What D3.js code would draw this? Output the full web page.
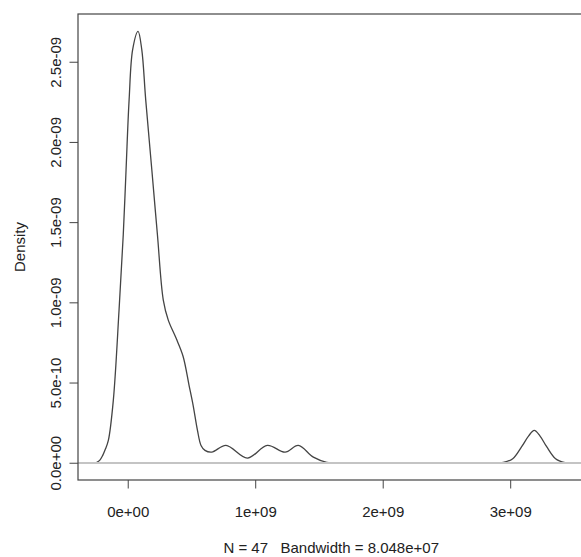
<!DOCTYPE html>
<html>
<head>
<meta charset="utf-8">
<script src="https://cdn.jsdelivr.net/npm/d3@7"></script>
<style>
  body { margin: 0; background: #fff; }
  svg { display: block; }
</style>
</head>
<body>
<div id="chart"></div>
<script>
const width = 581;
const height = 557;

// density curve
const densityX = [
  -0.249e9, -0.22e9, -0.196e9, -0.175e9, -0.152e9, -0.113e9, -0.068e9, -0.035e9,
  -0.013e9, 0.011e9, 0.039e9, 0.081e9, 0.110e9, 0.141e9, 0.189e9, 0.233e9,
  0.279e9, 0.318e9, 0.379e9, 0.434e9, 0.481e9, 0.513e9, 0.547e9,
  0.575e9, 0.606e9, 0.659e9, 0.771e9, 0.938e9, 1.095e9, 1.234e9, 1.338e9,
  1.456e9, 1.561e9, 1.62e9, 2.90e9, 2.946e9, 3.020e9, 3.090e9, 3.145e9, 3.189e9,
  3.233e9, 3.286e9, 3.356e9, 3.430e9
];
const densityY = [
  0, 0.015e-9, 0.046e-9, 0.085e-9, 0.139e-9, 0.389e-9, 0.952e-9, 1.421e-9,
  1.827e-9, 2.264e-9, 2.577e-9, 2.689e-9, 2.577e-9, 2.264e-9, 1.827e-9, 1.421e-9,
  1.014e-9, 0.889e-9, 0.777e-9, 0.664e-9, 0.483e-9, 0.358e-9, 0.202e-9,
  0.108e-9, 0.077e-9, 0.066e-9, 0.108e-9, 0.029e-9, 0.108e-9, 0.066e-9, 0.108e-9,
  0.035e-9, 0.003e-9, 0, 0, 0.002e-9, 0.025e-9, 0.100e-9, 0.168e-9, 0.202e-9,
  0.168e-9, 0.100e-9, 0.025e-9, 0
];

const xTicks = [0, 1e9, 2e9, 3e9];
const xTickLabels = ["0e+00", "1e+09", "2e+09", "3e+09"];
const yTicks = [0, 0.5e-9, 1.0e-9, 1.5e-9, 2.0e-9, 2.5e-9];
const yTickLabels = ["0.0e+00", "5.0e-10", "1.0e-09", "1.5e-09", "2.0e-09", "2.5e-09"];

const subTitle = "N = 47   Bandwidth = 8.048e+07";
const yTitle = "Density";

const box = { left: 78, top: 14, right: 584.4, bottom: 480 };

const x = d3.scaleLinear()
  .domain([-0.39e9, 3.582e9])
  .range([box.left, box.right]);

const y = d3.scaleLinear()
  .domain([-0.1076e-9, 2.7976e-9])
  .range([box.bottom, box.top]);

const svg = d3.select("#chart")
  .append("svg")
  .attr("width", width)
  .attr("height", height)
  .style("font-family", "'Liberation Sans', Arial, sans-serif")
  .style("font-size", "15px");

const points = densityX.map(function(d, i) {
  return [d, densityY[i]];
});

const line = d3.line()
  .x(function(d) { return x(d[0]); })
  .y(function(d) { return Math.min(y(d[1]), y(0)); })
  .curve(d3.curveCatmullRom.alpha(0.5));

svg.append("path")
  .datum(points)
  .attr("fill", "none")
  .attr("stroke", "#444")
  .attr("stroke-width", 1.3)
  .attr("d", line);

// zero line, drawn over the curve like R does
const y0 = Math.round(y(0));
svg.append("line")
  .attr("x1", box.left)
  .attr("x2", width)
  .attr("y1", y0)
  .attr("y2", y0)
  .attr("stroke", "#c4c4c4")
  .attr("stroke-width", 2);

// box
svg.append("rect")
  .attr("x", box.left)
  .attr("y", box.top)
  .attr("width", box.right - box.left)
  .attr("height", box.bottom - box.top)
  .attr("fill", "none")
  .attr("stroke", "#444")
  .attr("stroke-width", 1.2);

const xAxis = svg.append("g")
  .attr("transform", "translate(0," + box.bottom + ")")
  .call(d3.axisBottom(x)
    .tickValues(xTicks)
    .tickSize(8.5)
    .tickFormat(function(d, i) { return xTickLabels[i]; }));

xAxis.select(".domain").remove();
xAxis.selectAll("line").attr("stroke", "#444");
xAxis.selectAll("text")
  .attr("y", 37)
  .attr("dy", 0)
  .attr("fill", "#222")
  .style("font-size", "15px")
  .style("font-family", "'Liberation Sans', Arial, sans-serif");

const yAxis = svg.append("g")
  .attr("transform", "translate(" + box.left + ",0)")
  .call(d3.axisLeft(y)
    .tickValues(yTicks)
    .tickSize(8.5)
    .tickFormat(function(d, i) { return yTickLabels[i]; }));

yAxis.select(".domain").remove();
yAxis.selectAll("line").attr("stroke", "#444");
yAxis.selectAll("text")
  .attr("transform", "rotate(-90)")
  .attr("x", 0)
  .attr("y", -17)
  .attr("dy", 0)
  .attr("text-anchor", "middle")
  .attr("fill", "#222")
  .style("font-size", "15px")
  .style("font-family", "'Liberation Sans', Arial, sans-serif");

svg.append("text")
  .attr("transform", "translate(25," + ((box.top + box.bottom) / 2) + ") rotate(-90)")
  .attr("text-anchor", "middle")
  .attr("fill", "#222")
  .text(yTitle);

svg.append("text")
  .attr("x", (box.left + box.right) / 2)
  .attr("y", 552.5)
  .attr("text-anchor", "middle")
  .attr("fill", "#222")
  .style("white-space", "pre")
  .text(subTitle);
</script>
</body>
</html>
